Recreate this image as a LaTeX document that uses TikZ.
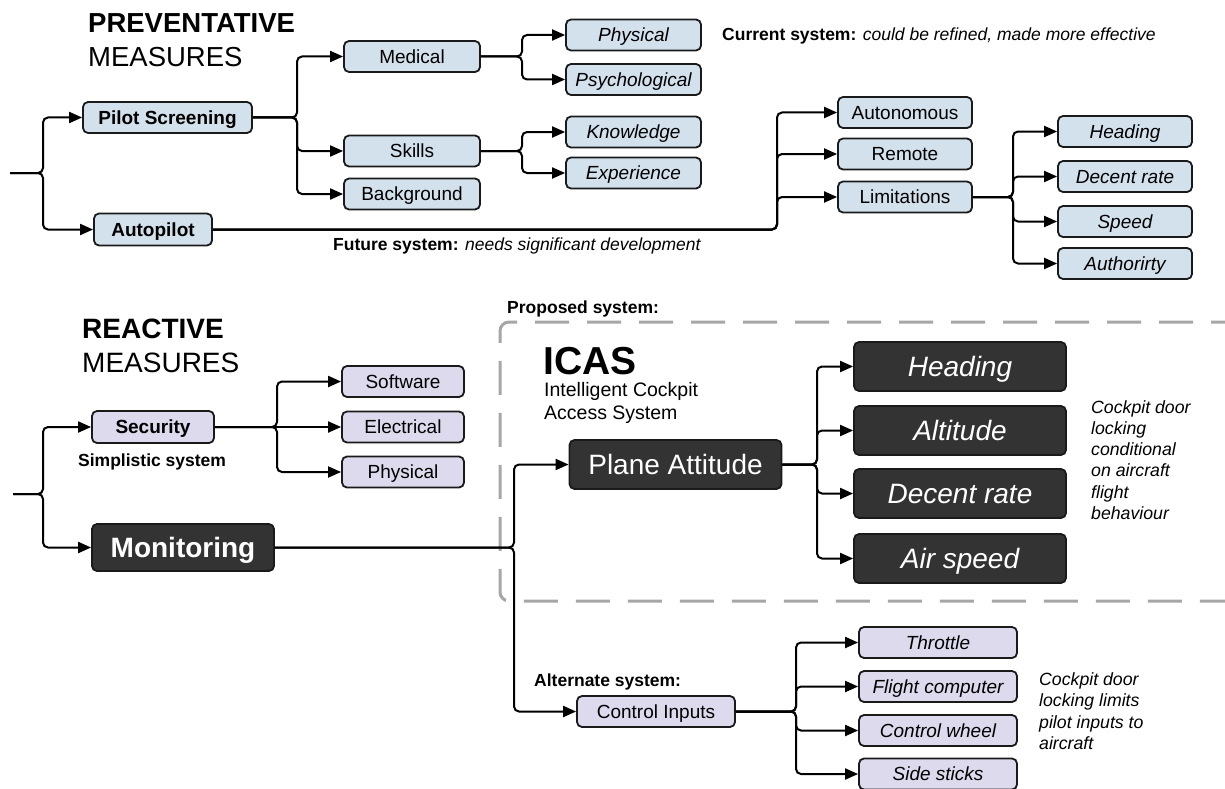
\documentclass[tikz,border=0pt]{standalone}
\usepackage{fontspec}
\setmainfont{Liberation Sans}
\usetikzlibrary{arrows.meta}

\definecolor{blueF}{RGB}{211,225,236}
\definecolor{lavF}{RGB}{220,218,236}
\definecolor{darkF}{RGB}{51,51,51}
\definecolor{edge}{RGB}{26,26,26}
\definecolor{dashgray}{RGB}{166,166,166}

\tikzset{
  box/.style={draw=edge, line width=1.8pt, rounded corners=5pt, inner sep=0pt,
    minimum height=31pt, text height=16pt, text depth=2.4pt,
    font=\fontsize{19}{23}\selectfont},
  bluebox/.style={box, fill=blueF},
  lavbox/.style={box, fill=lavF},
  darkbox/.style={box, fill=darkF, text=white, minimum height=49pt,
    text height=23.5pt, text depth=3.5pt, font=\fontsize{28}{34}\selectfont},
  bb/.style={font=\fontsize{19}{23}\selectfont\bfseries},
  ib/.style={font=\fontsize{19}{23}\selectfont\itshape},
  idark/.style={font=\fontsize{28}{34}\selectfont\itshape},
  conn/.style={draw=black, line width=2pt, rounded corners=5pt},
  arr/.style={conn, -{Triangle[length=13pt,width=11pt]}},
  note/.style={inner sep=0pt, anchor=base west, font=\fontsize{17.5}{21}\selectfont},
  inote/.style={note, font=\fontsize{17.7}{21}\selectfont\itshape},
  head/.style={inner sep=0pt, anchor=base west, font=\fontsize{28}{32}\selectfont},
  dashbox/.style={draw=dashgray, line width=3pt, rounded corners=9pt,
    dash pattern=on 34pt off 18pt}
}

\begin{document}
\begin{tikzpicture}[x=1pt, y=-1pt]
\useasboundingbox (0,0) rectangle (1225,789);

% ---------- preventative measures ----------
\node[head, font=\fontsize{27.5}{32}\selectfont\bfseries] (prevA) at (88,33) {PREVENTATIVE};
\node[head, font=\fontsize{27.5}{32}\selectfont] (prevB) at (88,67) {MEASURES};

\node[bluebox, bb, minimum width=169pt] (ps) at (167.5,117.5) {Pilot Screening};
\node[bluebox, bb, minimum width=118pt, minimum height=32pt] (ap) at (153,229.5) {Autopilot};

\node[bluebox, minimum width=136pt] (med) at (412,56.5) {Medical};
\node[bluebox, minimum width=136pt] (sk) at (412,151) {Skills};
\node[bluebox, minimum width=136pt] (bg) at (412,194) {Background};

\node[bluebox, ib, minimum width=135pt] (phy) at (633.5,35) {Physical};
\node[bluebox, ib, minimum width=135pt] (psy) at (633.5,79.5) {Psychological};
\node[bluebox, ib, minimum width=135pt] (kn) at (633.5,132) {Knowledge};
\node[bluebox, ib, minimum width=135pt] (ex) at (633.5,173) {Experience};

\node[bluebox, minimum width=134pt] (auto) at (905,112.5) {Autonomous};
\node[bluebox, minimum width=134pt] (rem) at (905,154) {Remote};
\node[bluebox, minimum width=134pt] (lim) at (905,197) {Limitations};

\node[bluebox, ib, minimum width=134pt] (hd) at (1125,131.5) {Heading};
\node[bluebox, ib, minimum width=134pt] (dr) at (1125,176.5) {Decent rate};
\node[bluebox, ib, minimum width=134pt] (spd) at (1125,221.5) {Speed};
\node[bluebox, ib, minimum width=134pt] (aut) at (1125,263.5) {Authorirty};

\node[note] (cur) at (722,41) {\bfseries Current system: \mdseries\itshape could be refined, made more effective};
\node[note] (fut) at (333,250) {\bfseries Future system: \mdseries\itshape needs significant development};

\coordinate (in1) at (10,173);
\coordinate (j0) at (43,173);
\coordinate (j1) at (297,117.5);
\coordinate (j2) at (522,56.5);
\coordinate (j3) at (522,151);
\coordinate (j4) at (777,229.5);
\coordinate (j5) at (1013,197);

\draw[arr] (in1) -- (j0) |- (ps.west);
\draw[arr] (in1) -- (j0) |- (ap.west);
\foreach \c in {med,sk,bg} \draw[arr] (ps.east) -- (j1) |- (\c.west);
\foreach \c in {phy,psy} \draw[arr] (med.east) -- (j2) |- (\c.west);
\foreach \c in {kn,ex} \draw[arr] (sk.east) -- (j3) |- (\c.west);
\foreach \c in {auto,rem,lim} \draw[arr] (ap.east) -- (j4) |- (\c.west);
\foreach \c in {hd,dr,spd,aut} \draw[arr] (lim.east) -- (j5) |- (\c.west);

% ---------- reactive measures ----------
\node[head, font=\fontsize{28}{32}\selectfont\bfseries] (reaA) at (82,338) {REACTIVE};
\node[head] (reaB) at (82,372) {MEASURES};

\node[lavbox, bb, minimum width=122pt, minimum height=32pt] (sec) at (153,427) {Security};
\node[note, font=\fontsize{17.5}{21}\selectfont\bfseries] (simp) at (78,466) {Simplistic system};

\node[lavbox, minimum width=122pt] (sw) at (403,381.5) {Software};
\node[lavbox, minimum width=122pt] (el) at (403,427) {Electrical};
\node[lavbox, minimum width=122pt] (phx) at (403,472) {Physical};

\node[darkbox, font=\fontsize{28}{34}\selectfont\bfseries, minimum width=182pt, minimum height=47pt] (mon) at (183,547.5) {Monitoring};

% proposed system frame
\draw[dashbox] (1245,322) -- (500,322) -- (500,601) -- (1245,601);
\node[note, font=\fontsize{17.5}{21}\selectfont\bfseries] (prop) at (507,313) {Proposed system:};
\node[head, font=\fontsize{39}{44}\selectfont\bfseries] (icas) at (543,374) {ICAS};
\node[note, font=\fontsize{19.5}{23}\selectfont] (icasA) at (544,396) {Intelligent Cockpit};
\node[note, font=\fontsize{19.5}{23}\selectfont] (icasB) at (544,419) {Access System};

\node[darkbox, minimum width=212pt] (pa) at (675.5,464.5) {Plane Attitude};
\node[darkbox, idark, minimum width=212pt] (h2) at (960,366.5) {Heading};
\node[darkbox, idark, minimum width=212pt] (alt) at (960,430.5) {Altitude};
\node[darkbox, idark, minimum width=212pt] (dr2) at (960,493.5) {Decent rate};
\node[darkbox, idark, minimum width=212pt] (as) at (960,558.5) {Air speed};

\foreach \t [count=\i from 0] in {Cockpit door, locking, conditional, on aircraft, flight, behaviour}
  \node[inote] (na\i) at (1091,413+21.3*\i) {\t};

% alternate system
\node[note, font=\fontsize{17.5}{21}\selectfont\bfseries] (alts) at (534,686) {Alternate system:};
\node[lavbox, minimum width=158pt] (ci) at (656,711.5) {Control Inputs};
\node[lavbox, ib, minimum width=158pt] (th) at (938,642.5) {Throttle};
\node[lavbox, ib, minimum width=158pt] (fc) at (938,686.5) {Flight computer};
\node[lavbox, ib, minimum width=158pt] (cw) at (938,730.5) {Control wheel};
\node[lavbox, ib, minimum width=158pt] (ss) at (938,774) {Side sticks};

\foreach \t [count=\i from 0] in {Cockpit door, locking limits, pilot inputs to, aircraft}
  \node[inote] (nb\i) at (1039,685+21.5*\i) {\t};

\coordinate (in2) at (13,494);
\coordinate (j6) at (43,494);
\coordinate (j7) at (277,427);
\coordinate (j8) at (514,547.5);
\coordinate (j9) at (817,464.5);
\coordinate (j10) at (796,711.5);

\draw[arr] (in2) -- (j6) |- (sec.west);
\draw[arr] (in2) -- (j6) |- (mon.west);
\draw[arr] (sec.east) -- (el.west);
\foreach \c in {sw,phx} \draw[arr] (sec.east) -- (j7) |- (\c.west);
\draw[arr] (mon.east) -- (j8) |- (pa.west);
\draw[arr] (mon.east) -- (j8) |- (ci.west);
\foreach \c in {h2,alt,dr2,as} \draw[arr] (pa.east) -- (j9) |- (\c.west);
\foreach \c in {th,fc,cw,ss} \draw[arr] (ci.east) -- (j10) |- (\c.west);
\end{tikzpicture}
\end{document}
